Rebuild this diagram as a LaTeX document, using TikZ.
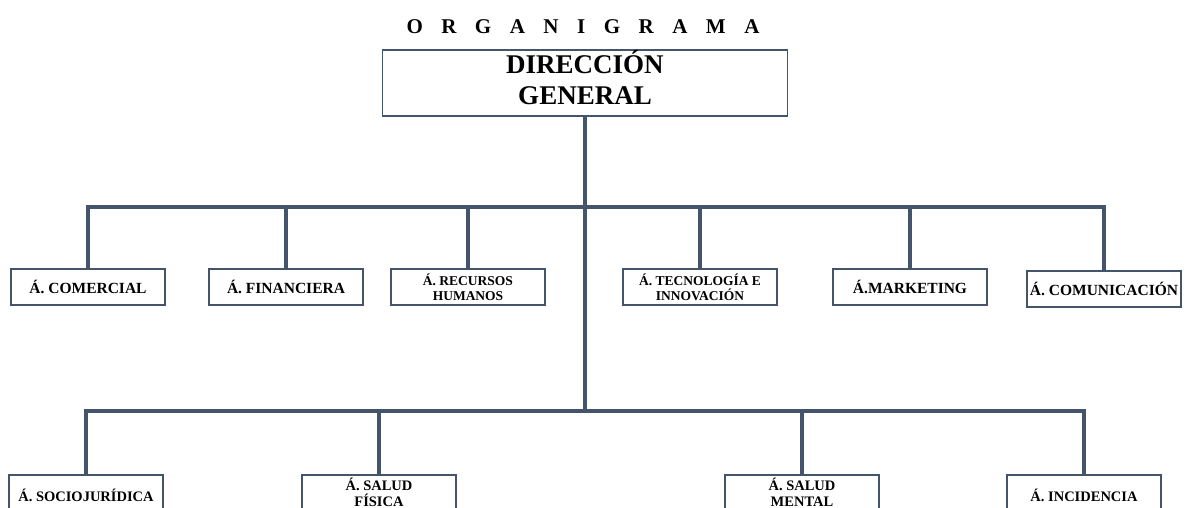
\documentclass[tikz,border=0pt]{standalone}
\usepackage{fontspec}
\setmainfont{Liberation Serif}
\definecolor{pizarra}{HTML}{44546A}
\tikzset{
  area/.style={draw=pizarra, line width=1.8pt, fill=white, minimum width=154pt, minimum height=36pt, inner sep=0pt, align=center, font=\bfseries\fontsize{15.5}{17}\selectfont},
  areados/.style={area, font=\bfseries\fontsize{13.5}{15}\selectfont},
  areabaja/.style={area, minimum height=40pt, font=\bfseries\fontsize{14.5}{16}\selectfont},
  linea/.style={draw=pizarra, line width=3.2pt}
}
\begin{document}
\begin{tikzpicture}[x=1pt,y=-1pt]
\useasboundingbox (0,0) rectangle (1193,508);
\clip (0,0) rectangle (1193,508);
% titulo y direccion
\node (titulo) at (583,27) {\bfseries\fontsize{21}{24}\selectfont\spaceskip=18.5pt O R G A N I G R A M A};
\node[area, minimum width=405pt, minimum height=66pt, text depth=11pt, font=\bfseries\fontsize{27}{31}\selectfont] (direccion) at (585,83) {DIRECCIÓN\\GENERAL};
\coordinate (bus1) at (585,207);
\coordinate (bus2) at (585,411);
% primer nivel
\node[area] (comercial) at (88,287) {Á. COMERCIAL};
\node[area] (financiera) at (286,287) {Á. FINANCIERA};
\node[areados] (rrhh) at (468,287) {Á. RECURSOS\\HUMANOS};
\node[areados] (tecnologia) at (700,287) {Á. TECNOLOGÍA E\\INNOVACIÓN};
\node[area] (marketing) at (910,287) {Á.MARKETING};
\node[area] (comunicacion) at (1104,289) {Á. COMUNICACIÓN};
% segundo nivel
\node[areabaja] (sociojuridica) at (86,495) {Á. SOCIOJURÍDICA};
\node[areabaja, text depth=6pt] (saludfisica) at (379,495) {Á. SALUD\\FÍSICA};
\node[areabaja, text depth=6pt] (saludmental) at (802,495) {Á. SALUD\\MENTAL};
\node[areabaja] (incidencia) at (1084,495) {Á. INCIDENCIA};
% conectores
\draw[linea] (direccion.south) -- (bus2);
\foreach \n in {comercial,financiera,rrhh,tecnologia,marketing,comunicacion}
  \draw[linea] (bus1) -| (\n.north);
\foreach \n in {sociojuridica,saludfisica,saludmental,incidencia}
  \draw[linea] (bus2) -| (\n.north);
\end{tikzpicture}
\end{document}
